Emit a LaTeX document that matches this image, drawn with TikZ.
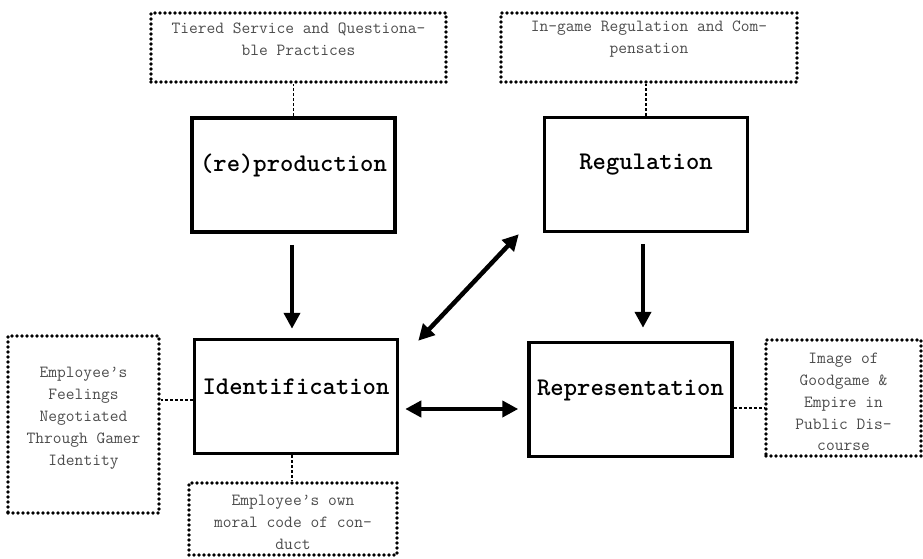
\documentclass[tikz,border=0pt]{standalone}
\usepackage{fontspec}
\usetikzlibrary{arrows.meta,calc}

\tikzset{
  x=1pt, y=-1pt,
  mainbox/.style={draw, line width=3.5pt, minimum width=203pt, minimum height=114pt, inner sep=0pt},
  mainlabel/.style={font=\fontsize{25.4}{28}\selectfont\ttfamily\bfseries, inner sep=0pt, yshift=9.5pt},
  notebox/.style={draw, line width=3.6pt, line cap=round, dash pattern=on 0pt off 5pt, inner sep=0pt},
  notelabel/.style={font=\fontsize{17}{21.9}\selectfont\ttfamily, text=black!70, align=center, inner sep=0pt},
  link/.style={line width=1.2pt, dash pattern=on 3pt off 2pt},
  flow/.style={line width=4.5pt, -{Triangle[length=16pt,width=16pt]}},
  twoway/.style={line width=4.5pt, {Triangle[length=16pt,width=16pt]}-{Triangle[length=16pt,width=16pt]}}
}

\begin{document}
\begin{tikzpicture}
\useasboundingbox (0,0) rectangle (923,559);

% the four core processes
\node[mainbox, label={[mainlabel]center:(re)production}] (prod)  at (293.5,175) {};
\node[mainbox, label={[mainlabel]center:Regulation}]     (reg)   at (646,174.5) {};
\node[mainbox, label={[mainlabel]center:Identification}] (ident) at (296,396.5) {};
\node[mainbox, label={[mainlabel]center:Representation}] (rep)   at (630.5,399.5) {};

% dotted annotation boxes
\node[notebox, minimum width=295pt, minimum height=69pt,
      label={[notelabel, yshift=8pt]center:Tiered Service and Questiona-\\ble Practices}] (tl) at (298.5,47.5) {};
\node[notebox, minimum width=296pt, minimum height=69pt,
      label={[notelabel, yshift=8pt]center:In-game Regulation and Com-\\pensation}] (tr) at (649,47.5) {};
\node[notebox, minimum width=151pt, minimum height=177pt,
      label={[notelabel, yshift=6.5pt]center:Employee’s\\Feelings\\Negotiated\\Through Gamer\\Identity}] (left) at (83.5,424.5) {};
\node[notebox, minimum width=208pt, minimum height=72pt,
      label={[notelabel, yshift=-3pt]center:Employee’s own\\moral code of con-\\duct}] (bot) at (293,519) {};
\node[notebox, minimum width=155pt, minimum height=116pt,
      label={[notelabel, yshift=-4pt]center:Image of\\Goodgame \&\\Empire in\\Public Dis-\\course}] (right) at (843.5,398) {};

% dashed attachments
\draw[link] (prod.north) -- (prod.north |- tl.south);
\draw[link] (reg.north) -- (reg.north |- tr.south);
\draw[link] ($(ident.west)+(0,3.5)$) -- ($(ident.west -| left.east)+(0,3.5)$);
\draw[link] ($(ident.south)+(-4,0)$) -- ($(ident.south |- bot.north)+(-4,0)$);
\draw[link] ($(rep.east)+(0,8.5)$) -- ($(rep.east -| right.west)+(0,8.5)$);

% arrows between processes
\draw[flow] ($(prod.south)+(-1.5,11)$) -- ($(prod.south |- ident.north)+(-1.5,-9)$);
\draw[flow] ($(reg.south)+(-3,11)$) -- ($(reg.south |- rep.north)+(-3,-13)$);
\draw[twoway] ($(ident.north east)+(19,3)$) -- ($(reg.south west)+(-24,1)$);
\draw[twoway] ($(ident.east)+(6,12.5)$) -- ($(rep.west)+(-9,9.5)$);
\end{tikzpicture}
\end{document}
